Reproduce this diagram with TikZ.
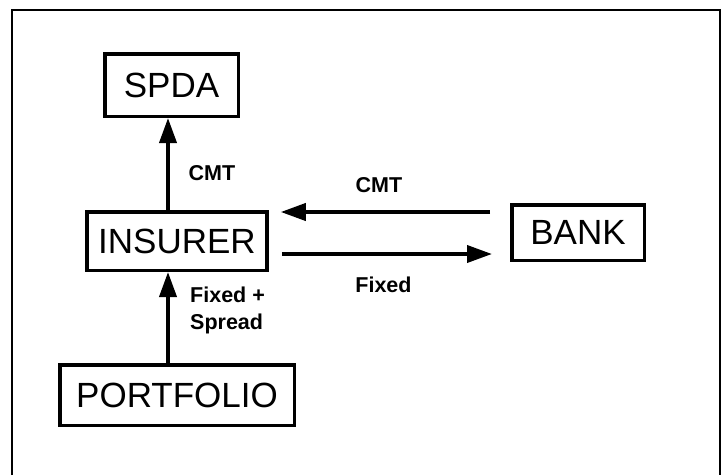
\documentclass[tikz,border=0pt]{standalone}
\usepackage{fontspec}
\setmainfont{Liberation Sans}
\usetikzlibrary{arrows.meta,calc}
\tikzset{
	party/.style={
		rectangle,
		draw=black,
		line width=3.5pt,
		inner sep=0pt,
		font=\fontsize{35}{40}\selectfont,
	},
	flow/.style={
		line width=3.8pt,
		-{Triangle[length=25pt,width=17pt]},
	},
	rate/.style={
		font=\fontsize{21.5}{26}\bfseries\selectfont,
		inner sep=0pt,
	},
}

\begin{document}
\begin{tikzpicture}[x=1pt,y=-1pt]
		\useasboundingbox (0,0) rectangle (724,475);
		% frame
		\draw[line width=1.5pt] (12,475) -- (12,10) -- (720,10) -- (720,475);
		
		\node [party,minimum width=133.5pt,minimum height=62.5pt] (SPDA) at (171.5,85) {SPDA};
		\node [party,minimum width=180pt,minimum height=58.5pt] (INSURER) at (177,241) {INSURER};
		\node [party,minimum width=132.5pt,minimum height=55.5pt] (BANK) at (578,232.5) {BANK};
		\node [party,minimum width=234.5pt,minimum height=60.5pt] (PORTFOLIO) at (177,395) {PORTFOLIO};
		
		\draw[flow] ([xshift=-9pt]INSURER.north) -- ([xshift=-9pt]INSURER.north |- SPDA.south);
		\node [rate] (cmt-up) at (212,173) {CMT};
		\draw[flow] ([xshift=-9pt]PORTFOLIO.north) -- ([xshift=-9pt]PORTFOLIO.north |- INSURER.south);
		\node [rate,anchor=west,align=left] (fixed-spread) at (190,310) {Fixed +\\[1pt]Spread};
		
		\draw[flow,shorten <=20pt,shorten >=12pt] ([yshift=20.5pt]BANK.west) -- ([yshift=20.5pt]BANK.west -| INSURER.east);
		\draw[flow,shorten <=13pt,shorten >=18pt] ([yshift=-21.5pt]INSURER.east |- BANK.west) -- ([yshift=-21.5pt]BANK.west);
		\node [rate] (cmt-swap) at (379,185) {CMT};
		\node [rate] (fixed-swap) at (383.5,285) {Fixed};
	\end{tikzpicture}
\end{document}
